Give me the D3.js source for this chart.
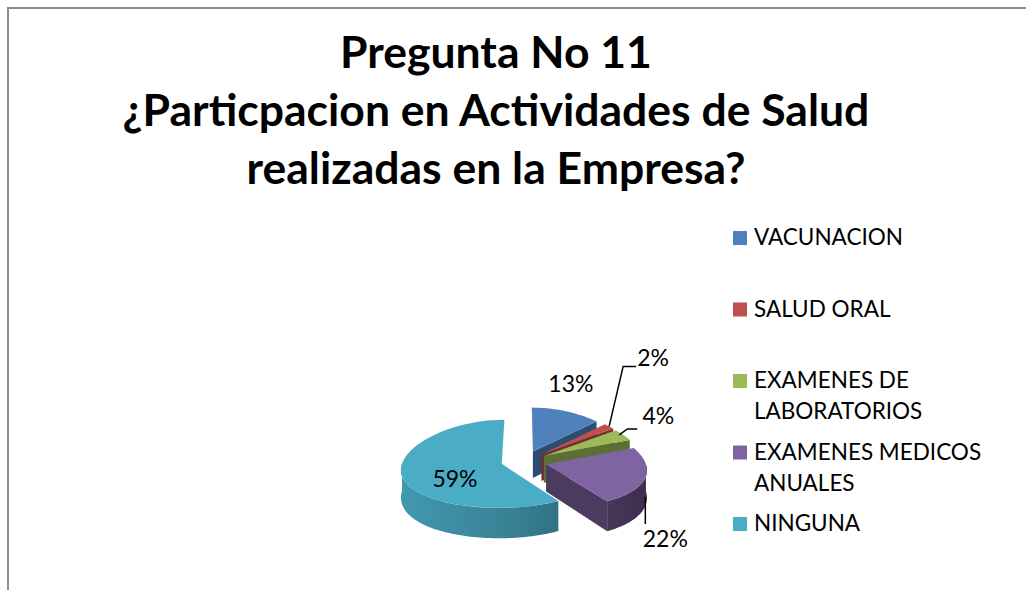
<!DOCTYPE html>
<html>
<head>
<meta charset="utf-8">
<script src="https://cdn.jsdelivr.net/npm/d3@7"></script>
<style>
  body { margin: 0; background: #fff; }
  svg { display: block; }
  .title { font-family: Lato, "Open Sans", sans-serif; font-weight: bold; font-size: 44.5px; fill: #000; }
  .legend text, .lbl { font-family: Lato, "Open Sans", sans-serif; fill: #000; }
</style>
</head>
<body>
<div id="chart"></div>
<script>
// datos
var categories = ["VACUNACION", "SALUD ORAL", "EXAMENES DE LABORATORIOS", "EXAMENES MEDICOS ANUALES", "NINGUNA"];
var values = [13, 2, 4, 22, 59];
var percentLabels = ["13%", "2%", "4%", "22%", "59%"];
var titleLines = ["Pregunta No 11", "¿Particpacion en Actividades de Salud", "realizadas en la Empresa?"];
var colors = ["#4F81BD", "#C0504D", "#9BBB59", "#8064A2", "#4BACC6"];

var width = 1026, height = 590;
var cx = 524, cy = 461, rx = 99, ry = 44, depth = 27, explode = 23, persp = 0.12;

// posiciones de las etiquetas y lineas guia (dx, dy respecto al borde de la porcion)
var labelOffsets = [[5, -27], [44, -68], [35, -19], [20, 61], [53, 3]];
var leaderStart = [null, [0, 0], [-4, 0], null, null];
var leaderBends = [null, [[14, -60], [27, -60]], [[4, -6], [14, -6]], null, null];

var svg = d3.select("#chart").append("svg").attr("width", width).attr("height", height);

// marco
svg.append("path").attr("d", "M8," + height + "V8H" + width)
  .attr("fill", "none").attr("stroke", "#8c8c8c").attr("stroke-width", 2);

// titulo
svg.append("g").selectAll("text").data(titleLines).enter().append("text")
  .attr("class", "title")
  .attr("x", 496)
  .attr("y", function(d, i) { return 68 + i * 58; })
  .attr("text-anchor", "middle")
  .text(function(d) { return d; });

var pie = d3.pie().sort(null).value(function(d) { return d; });
var arcs = pie(values);

var defs = svg.append("defs");

// proyeccion con un poco de perspectiva (lo de atras mas angosto)
function proj(x, y, dz) {
  var f = 1 + persp * (y - cy) / ry;
  return [cx + (x - cx) * f, y + (dz || 0) * f];
}
function rim(a, ox, oy, dz) {
  return proj(ox + rx * Math.sin(a), oy - ry * Math.cos(a), dz);
}
function sample(a0, a1, ox, oy, dz) {
  var n = Math.max(2, Math.ceil(Math.abs(a1 - a0) / 0.03)), pts = [];
  for (var i = 0; i <= n; i++) pts.push(rim(a0 + (a1 - a0) * i / n, ox, oy, dz));
  return pts;
}
function poly(pts) { return "M" + pts.map(function(p) { return p[0].toFixed(2) + "," + p[1].toFixed(2); }).join("L") + "Z"; }

arcs.forEach(function(d, i) {
  var mid = (d.startAngle + d.endAngle) / 2;
  d.ox = cx + explode * Math.sin(mid);
  d.oy = cy - explode * (ry / rx) * Math.cos(mid);
  d.mid = mid;
  d.i = i;
  var g = defs.append("linearGradient").attr("id", "side" + i)
    .attr("gradientUnits", "userSpaceOnUse")
    .attr("x1", cx - rx - explode).attr("x2", cx + rx + explode).attr("y1", 0).attr("y2", 0);
  g.append("stop").attr("offset", 0).attr("stop-color", d3.color(colors[i]).darker(0.35));
  g.append("stop").attr("offset", 0.45).attr("stop-color", d3.color(colors[i]).darker(0.8));
  g.append("stop").attr("offset", 1).attr("stop-color", d3.color(colors[i]).darker(2.1));
});

// dibujar de atras hacia adelante
var order = arcs.slice().sort(function(a, b) { return (-Math.cos(b.mid)) < (-Math.cos(a.mid)) ? 1 : -1; });

var pieG = svg.append("g");
order.forEach(function(d) {
  var i = d.i, a0 = d.startAngle, a1 = d.endAngle, ox = d.ox, oy = d.oy;
  var sg = pieG.append("g");
  // caras de corte
  [[a0, -Math.sin(a0)], [a1, Math.sin(a1)]].forEach(function(c) {
    if (c[1] > 0.01) {
      sg.append("path")
        .attr("d", poly([proj(ox, oy), rim(c[0], ox, oy), rim(c[0], ox, oy, depth), proj(ox, oy, depth)]))
        .attr("fill", d3.color(colors[i]).darker(1.5));
    }
  });
  // pared exterior
  var s = Math.max(a0, Math.PI / 2), e = Math.min(a1, Math.PI * 1.5);
  if (e > s) {
    var top = sample(s, e, ox, oy, 0), bot = sample(e, s, ox, oy, depth);
    sg.append("path").attr("d", poly(top.concat(bot))).attr("fill", "url(#side" + i + ")");
  }
  // cara superior
  sg.append("path").attr("d", poly([proj(ox, oy)].concat(sample(a0, a1, ox, oy, 0))))
    .attr("fill", colors[i]);
});

// etiquetas de porcentaje
var lblG = svg.append("g");
arcs.forEach(function(d, i) {
  var p = rim(d.mid, d.ox, d.oy);
  var lx = p[0] + labelOffsets[i][0], ly = p[1] + labelOffsets[i][1];
  if (leaderBends[i]) {
    var p0 = [p[0] + leaderStart[i][0], p[1] + leaderStart[i][1]];
    var pts = [p0].concat(leaderBends[i].map(function(b) { return [p[0] + b[0], p[1] + b[1]]; }));
    lblG.append("path").attr("d", d3.line()(pts)).attr("fill", "none").attr("stroke", "#000").attr("stroke-width", 1.5);
  }
  lblG.append("text").attr("class", "lbl")
    .attr("x", lx).attr("y", ly).attr("dy", "0.35em")
    .attr("text-anchor", "middle").attr("font-size", 23)
    .text(percentLabels[i]);
});
// linea guia del 22% (sobre la pared)
var dm = arcs[3];
var pm = rim(1.82, dm.ox, dm.oy, depth);
lblG.append("line").attr("x1", pm[0] - 1).attr("x2", pm[0] - 1).attr("y1", pm[1] - 6).attr("y2", pm[1] + 21)
  .attr("stroke", "#000").attr("stroke-width", 1.5);

// leyenda
var ly = d3.scalePoint().domain(categories).range([245, 531]);
var legendLines = [["VACUNACION"], ["SALUD ORAL"], ["EXAMENES DE", "LABORATORIOS"], ["EXAMENES MEDICOS", "ANUALES"], ["NINGUNA"]];
var leg = svg.append("g").attr("class", "legend");
categories.forEach(function(c, i) {
  var y = ly(c);
  leg.append("rect").attr("x", 733).attr("y", y - 14).attr("width", 14).attr("height", 14).attr("fill", colors[i]);
  leg.append("text").attr("x", 754).attr("y", y).attr("font-size", 22.5)
    .selectAll("tspan").data(legendLines[i]).enter().append("tspan")
    .attr("x", 754).attr("dy", function(t, j) { return j ? 31 : 0; })
    .text(function(t) { return t; });
});
</script>
</body>
</html>
